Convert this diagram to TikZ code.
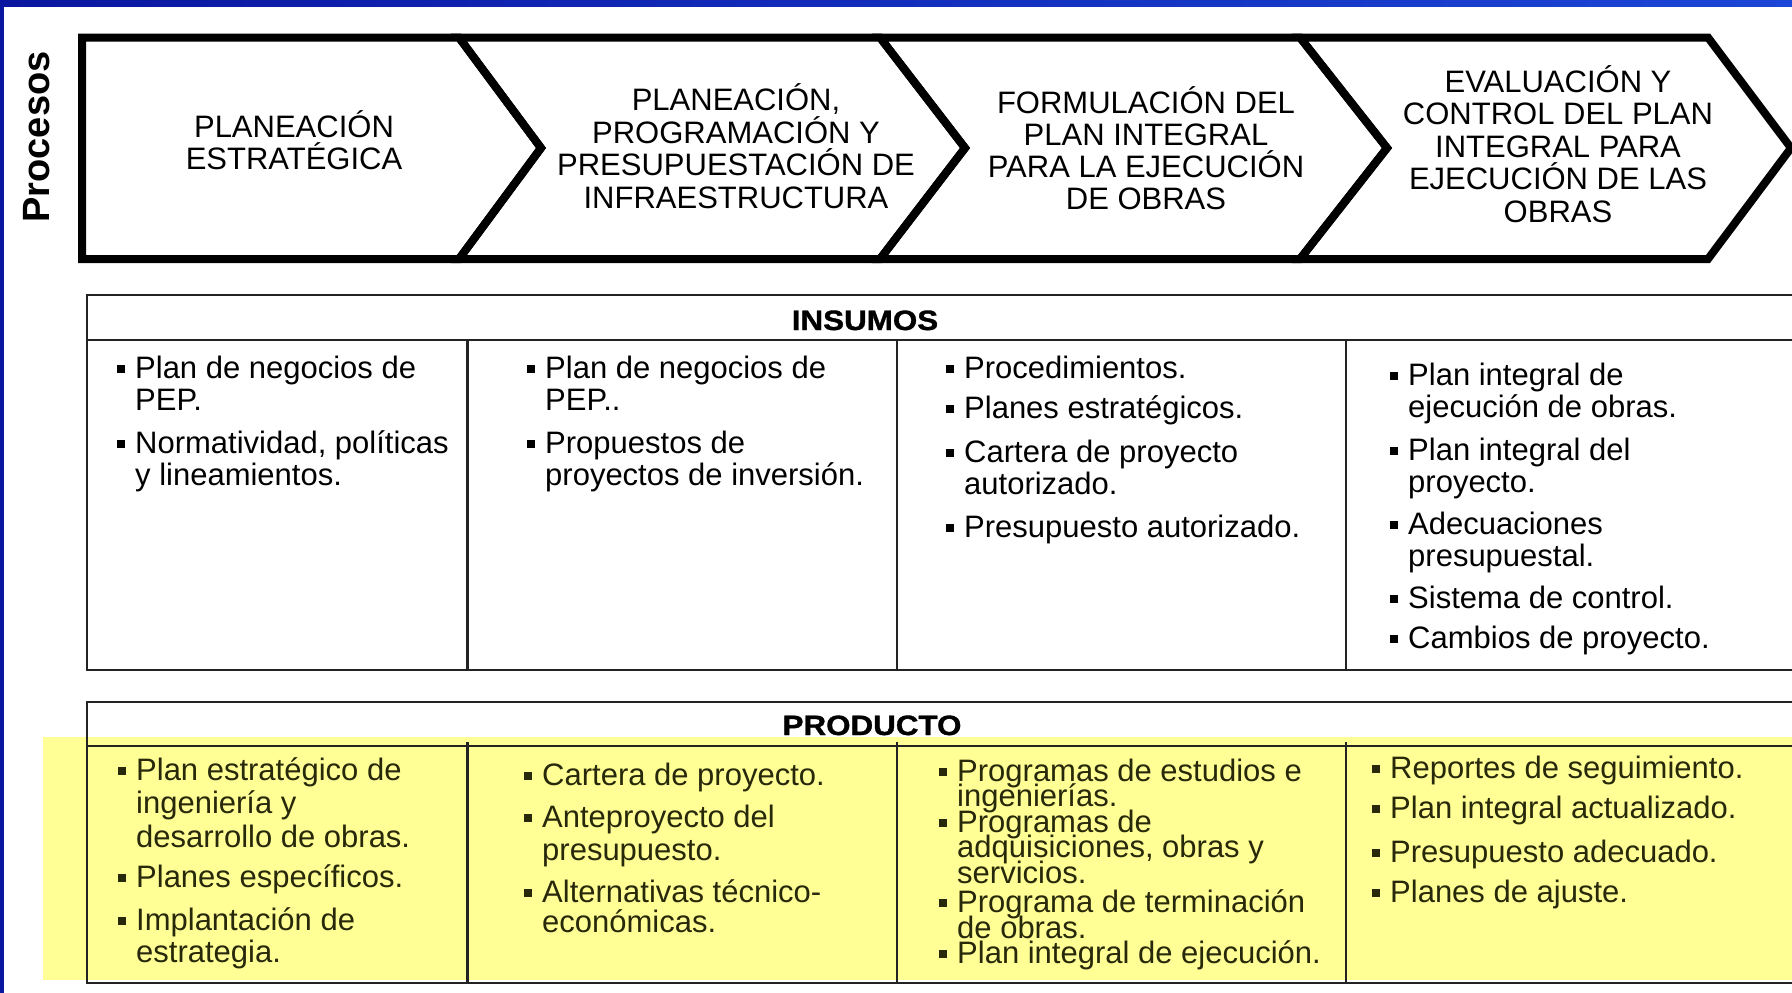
\documentclass[tikz,border=0pt]{standalone}
\usepackage{fontspec}
\setmainfont{Liberation Sans}
\newfontfamily\headfont[FakeStretch=1.12,FakeBold=1.2]{Liberation Sans}
\definecolor{blueA}{RGB}{10,22,160}
\definecolor{blueB}{RGB}{28,70,215}
\definecolor{hilite}{RGB}{255,255,150}
\definecolor{olivetext}{RGB}{40,40,10}
\definecolor{tblline}{RGB}{35,35,35}
\tikzset{
  chev/.style={draw=black, line width=8pt, line join=miter},
  chevtext/.style={font=\fontsize{31}{32}\selectfont, anchor=base, inner sep=0pt},
  tbl/.style={draw=tblline, line width=2.5pt},
  body/.style={font=\fontsize{31}{32}\selectfont, anchor=base west, inner sep=0pt},
  bsq/.style={minimum size=8pt, inner sep=0pt, draw=none},
  headtext/.style={font=\headfont\bfseries\fontsize{28}{30}\selectfont, anchor=base, inner sep=0pt},
}
\newcommand\chevlines[5]{%
  \foreach \mytxt [count=\myk] in {#5}{%
    \node[chevtext] (#1-\myk) at (#2,{#3+(\myk-1)*#4}) {\mytxt};}%
}
\newcommand\bulletitem[6]{%
  \node[bsq, fill=#1] (#2-b) at ({#3-14},{#4-9}) {};
  \foreach \mytxt [count=\myk] in {#6}{%
    \node[body, text=#1] (#2-\myk) at (#3,{#4+(\myk-1)*#5}) {\mytxt};}%
}
\begin{document}
\begin{tikzpicture}[x=1pt,y=-1pt]
\useasboundingbox (0,0) rectangle (1792,993);
\fill[white] (0,0) rectangle (1792,993);
% blue frame
\shade[left color=blueA, right color=blueB] (0,0) rectangle (1792,6);
\fill[blueA] (0,0) rectangle (4,993);
% yellow highlight
\fill[hilite] (43,737) rectangle (1792,980);
% INSUMOS table
\draw[tbl] (87,295) rectangle (1810,670);
\draw[tbl] (87,340) -- (1810,340);
\foreach \cx in {467.5,897,1346} \draw[tbl] (\cx,340) -- (\cx,670);
\node[headtext] (insumos) at (865,330) {INSUMOS};
% PRODUCTO table
\draw[tbl] (87,702) rectangle (1810,983);
\draw[tbl] (87,746) -- (1810,746);
\foreach \cx in {467.5,897,1346} \draw[tbl] (\cx,742) -- (\cx,983);
\node[headtext] (producto) at (872,735) {PRODUCTO};
% Procesos label
\node[font=\bfseries\fontsize{38}{38}\selectfont, rotate=90, anchor=base, inner sep=0pt] (procesos) at (49,137) {Procesos};
% chevrons
\draw[chev] (82,37.5) -- (459,37.5) -- (541,148) -- (459,259) -- (82,259) -- cycle;
\draw[chev] (459,37.5) -- (880,37.5) -- (965,148) -- (880,259) -- (459,259) -- (541,148) -- cycle;
\draw[chev] (880,37.5) -- (1300,37.5) -- (1387,148) -- (1300,259) -- (880,259) -- (965,148) -- cycle;
\draw[chev] (1300,37.5) -- (1708,37.5) -- (1791,148) -- (1708,259) -- (1300,259) -- (1387,148) -- cycle;
\chevlines{ca}{294}{137}{32.5}{PLANEACIÓN, ESTRATÉGICA}
\chevlines{cb}{736}{110.5}{32.5}{{PLANEACIÓN,}, PROGRAMACIÓN Y, PRESUPUESTACIÓN DE, INFRAESTRUCTURA}
\chevlines{cc}{1146}{113}{32.3}{FORMULACIÓN DEL, PLAN INTEGRAL, PARA LA EJECUCIÓN, DE OBRAS}
\chevlines{cd}{1558}{92}{32.5}{EVALUACIÓN Y, CONTROL DEL PLAN, INTEGRAL PARA, EJECUCIÓN DE LAS, OBRAS}
% INSUMOS items
\bulletitem{black}{ia1}{135}{378}{32.5}{Plan de negocios de, PEP.}
\bulletitem{black}{ia2}{135}{453}{32.5}{{Normatividad, políticas}, y lineamientos.}
\bulletitem{black}{ib1}{545}{378}{32.5}{Plan de negocios de, PEP..}
\bulletitem{black}{ib2}{545}{453}{32.5}{Propuestos de, proyectos de inversión.}
\bulletitem{black}{ic1}{964}{378}{32.5}{Procedimientos.}
\bulletitem{black}{ic2}{964}{418}{32.5}{Planes estratégicos.}
\bulletitem{black}{ic3}{964}{462}{32.5}{Cartera de proyecto, autorizado.}
\bulletitem{black}{ic4}{964}{537}{32.5}{Presupuesto autorizado.}
\bulletitem{black}{id1}{1408}{385}{32.5}{Plan integral de, ejecución de obras.}
\bulletitem{black}{id2}{1408}{460}{32.5}{Plan integral del, proyecto.}
\bulletitem{black}{id3}{1408}{534}{32.5}{Adecuaciones, presupuestal.}
\bulletitem{black}{id4}{1408}{608}{32.5}{Sistema de control.}
\bulletitem{black}{id5}{1408}{648}{32.5}{Cambios de proyecto.}
% PRODUCTO items
\bulletitem{olivetext}{pa1}{136}{780}{33.5}{Plan estratégico de, ingeniería y, desarrollo de obras.}
\bulletitem{olivetext}{pa2}{136}{887}{33.5}{Planes específicos.}
\bulletitem{olivetext}{pa3}{136}{930}{32.5}{Implantación de, estrategia.}
\bulletitem{olivetext}{pb1}{542}{785}{33}{Cartera de proyecto.}
\bulletitem{olivetext}{pb2}{542}{827}{33}{Anteproyecto del, presupuesto.}
\bulletitem{olivetext}{pb3}{542}{902}{30.5}{Alternativas técnico-, económicas.}
\bulletitem{olivetext}{pc1}{957}{781}{25}{Programas de estudios e, ingenierías.}
\bulletitem{olivetext}{pc2}{957}{832}{25.5}{Programas de, {adquisiciones, obras y}, servicios.}
\bulletitem{olivetext}{pc3}{957}{912}{26}{Programa de terminación, de obras.}
\bulletitem{olivetext}{pc4}{957}{963}{26}{Plan integral de ejecución.}
\bulletitem{olivetext}{pd1}{1390}{778}{32}{Reportes de seguimiento.}
\bulletitem{olivetext}{pd2}{1390}{818}{32}{Plan integral actualizado.}
\bulletitem{olivetext}{pd3}{1390}{862}{32}{Presupuesto adecuado.}
\bulletitem{olivetext}{pd4}{1390}{902}{32}{Planes de ajuste.}
\end{tikzpicture}
\end{document}
